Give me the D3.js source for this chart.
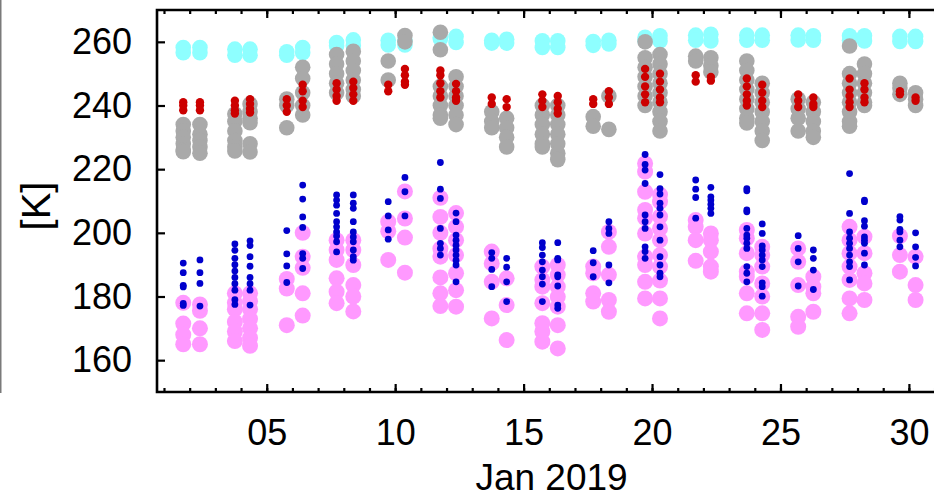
<!DOCTYPE html>
<html>
<head>
<meta charset="utf-8">
<script src="https://cdn.jsdelivr.net/npm/d3@7"></script>
<style>
  body { margin: 0; background: #fff; }
  svg { display: block; font-family: "Liberation Sans", Arial, sans-serif; }
</style>
</head>
<body>
<script>
// observation times, fractional day of January 2019
var obsDays = [1.75, 2.40, 3.76, 4.35, 5.78, 6.40, 7.72, 8.37, 9.73, 10.38,
  11.76, 12.37, 13.76, 14.34, 15.73, 16.33, 17.71, 18.32, 19.73, 20.31,
  21.70, 22.29, 23.69, 24.29, 25.69, 26.28, 27.69, 28.27, 29.65, 30.26];

var dayTicks = [5, 10, 15, 20, 25, 30];
var kTicks = [160, 180, 200, 220, 240, 260];

// values [K] per observation column
var cyanK = [
  [258.2, 256.6], [258.2, 256.6], [257.7, 255.8], [257.7, 255.8], [256.9, 255.8],
  [258.2, 256.6], [259.8, 258.8], [260.6, 258.8], [260.5, 259], [260.5, 259],
  [261.4, 260.9], [261.7, 259.8], [260.5, 259.6], [260.8, 259.6], [260.3, 258.2],
  [260.3, 258.2], [260.1, 258.9], [260.5, 259.3], [261.4, 260.3], [261.9, 260.3],
  [262.1, 260.5], [262.4, 260.3], [262.1, 260.5], [262.1, 260.5], [262.1, 260.6],
  [261.9, 260.5], [261.9, 260.5], [261.9, 260.3], [261.7, 260.1], [261.7, 260.1]
];

var grayK = [
  [234, 232, 230, 228, 226, 225.5],
  [234, 231, 229, 227, 225],
  [237.3, 235, 232, 229, 227, 225.7],
  [240.5, 238, 236, 234.6, 228, 225.4],
  [242, 240, 233],
  [252, 248.5, 244, 240, 237],
  [256, 253, 250, 247, 244],
  [257, 254, 251, 248, 245, 243],
  [254, 248],
  [262, 260],
  [263, 257.5, 246, 243, 240, 237, 236],
  [249, 246, 243, 240, 237, 234],
  [238, 235, 233],
  [236, 233, 230, 227],
  [240, 237, 234, 231, 228, 227],
  [240, 237, 234, 231, 228, 225, 223],
  [236.5, 233.5],
  [243, 232.5],
  [260, 255, 252, 249, 246, 243, 240],
  [256, 253, 250, 247, 244, 241, 238, 235, 232],
  [255.5, 254],
  [255, 252.5, 250.5],
  [254, 251, 248, 245, 242, 239, 236, 234.5],
  [247, 244, 241, 238, 235, 232, 229],
  [242, 239, 236, 232],
  [241, 238, 235, 232, 230],
  [258.7, 250, 247, 244, 241, 238, 235, 233.5],
  [253, 250, 247, 244, 241, 240],
  [247, 245.5, 243.5],
  [244, 242, 240]
];

var redK = [
  [241, 240, 238.5], [241, 240, 238.5], [241.5, 240, 238.5, 237.5], [242, 240.5, 239, 237.8],
  [242, 240, 238], [246.5, 244.5, 241.5, 239.5], [247, 245, 243, 241.5], [247.5, 245.5, 243.5, 241.5],
  [246.5, 244.5], [251.5, 249.5, 247.5, 246.5], [251, 249.5, 247, 244.5, 242.5], [246.8, 244.5, 242.5, 241.5],
  [242.5, 240.5], [242, 239.5], [243.5, 241.5, 239.5], [243, 241, 239, 237.5],
  [242, 240.5], [244.5, 242.5, 240.5], [251.5, 249, 246, 243.5, 241], [250, 247.5, 245, 242.5, 241],
  [249.5, 247.5], [249, 247.8], [248.5, 246, 243.5, 241.5, 240], [246.5, 244, 241.5, 239.5],
  [243.5, 241.5, 239.5], [242.5, 240.5, 239.5], [248.5, 245, 243, 241, 239.5], [247, 245, 242.5, 241],
  [244.5, 243.5], [242.5, 241.5]
];

var pinkK = [
  [178, 171.5, 168, 165],
  [177.5, 175.5, 170, 165],
  [181, 178, 176, 172, 169, 166],
  [181, 178.5, 176, 173, 170, 167, 164.5],
  [185.5, 182.5, 171],
  [200, 192.5, 189, 181, 174],
  [197.7, 194.6, 191.5, 185.7, 181.5, 177.9],
  [197.7, 194.6, 189.9, 183.6, 180, 175.3],
  [203.5, 200.5, 191.5],
  [213, 204.5, 198.5, 187.5],
  [211, 205, 200, 195, 192.5, 186, 181, 177],
  [206.2, 201.9, 197.7, 193, 187.3, 182, 176.8],
  [194.1, 190.4, 184.6, 173.1],
  [185.7, 177.3, 166.3],
  [189.4, 185.2, 183.1, 177.9, 171.6, 169, 165.8],
  [189.9, 186.8, 183.1, 179.9, 176.8, 171, 163.7],
  [189.4, 187.3, 181, 178.4],
  [200.3, 195.6, 186.8, 178.9, 175.2],
  [221.8, 219.2, 212.9, 207.2, 204.6, 199.8, 192.5, 189.9, 184.6, 179.4],
  [212, 209.8, 205.1, 201.4, 197.7, 193, 189.4, 185, 179.4, 173.1],
  [204, 201.9, 197.7, 191.2],
  [199.8, 197.7, 194.1, 189.4, 187.8],
  [200.9, 198.3, 193.6, 187.8, 186.2, 181, 174.7],
  [195.6, 193, 189.4, 184.1, 180, 174.7, 169.5],
  [195.1, 190.9, 183.6, 173.6, 170.5],
  [186.2, 183.1, 181, 175.2],
  [201.9, 197.7, 193.6, 189.4, 185.2, 179.4, 174.7],
  [198.8, 193.6, 187.3, 184.1, 178.9],
  [199, 193, 187.8],
  [192.5, 183.6, 178.9]
];

var blueK = [
  [190.5, 187.5, 183.5, 183, 177.8, 177.2],
  [191.5, 187.5, 184.1, 177],
  [196.5, 194.5, 192, 190, 188, 186, 184, 182, 179, 177.5],
  [197.5, 196, 192.5, 189.5, 186, 184, 182, 177.3],
  [200.7, 193.4, 189.6, 184.4],
  [215, 210.6, 205, 201.7, 193.5, 192, 188.8],
  [211.9, 210.3, 208.7, 206.1, 203.5, 201.9, 200.3, 199, 197.2, 194],
  [211.9, 209.3, 207.7, 203.5, 200.3, 198.7, 197.2, 194.6, 192.5, 191.4],
  [209.8, 205.3, 200.9, 198],
  [217.4, 212.9, 205.3],
  [222.1, 213.7, 210.8, 201.4, 196.7, 195.1, 193],
  [206.2, 203.5, 199.3, 197.7, 196.1, 194.6, 193, 191.4, 189.9, 184.6],
  [193.8, 192, 188.5, 183.1],
  [192, 189.2, 184.6, 178.4],
  [196.9, 195.4, 193, 190.9, 188.3, 186.2, 183.9, 178.4],
  [196.9, 192, 191.5, 186.8, 186.2, 183.3, 177.3, 176.3],
  [194.4, 190.6, 186.2],
  [203.5, 201.4, 199.8, 189.9, 184.3],
  [224.6, 221.5, 219.7, 215.5, 205.6, 203.5, 201.4, 195.6, 194.1, 192],
  [218.3, 213.9, 212.2, 209.3, 207.7, 205.6, 201.9, 197.7, 192.5, 189.9, 187.3, 186.2],
  [216.6, 213.7, 211.1, 204.6],
  [214.3, 211.3, 210.3, 209, 207.7, 206.1],
  [213.9, 213.2, 207.2, 206.6, 201.4, 199.3, 198.3, 196.7, 195.1, 189.4, 187.3, 184.6],
  [202.8, 199.8, 195.9, 194.6, 193, 191.5, 189.4, 184.3, 183.1, 180.1],
  [199.1, 195.1, 190.9, 183.3],
  [194.6, 192, 188.3, 182.2],
  [218.6, 206.1, 200.3, 198.3, 196.7, 195.1, 193, 190.9, 189.4, 185.2],
  [210.3, 209.8, 203.8, 202.1, 198.7, 197.7, 196.7, 193.6, 189.9],
  [205.1, 204, 201.1, 200.3, 197.7, 195.6],
  [200, 195.6, 192.3, 189.6]
];

var width = 934, height = 497;
var margin = {top: 10, left: 157, bottom: 105};
var plotRight = 950;

function dayToDate(d){
  return new Date(Date.UTC(2019, 0, 0) + d * 86400000);
}

var svg = d3.select("body").append("svg")
  .attr("width", width)
  .attr("height", height);

var x = d3.scaleUtc()
  .domain([dayToDate(0.728), dayToDate(31.6)])
  .range([margin.left, plotRight]);
var y = d3.scaleLinear()
  .domain([150, 270])
  .range([height - margin.bottom, margin.top]);

// gray edge of neighbouring panel
svg.append("line")
  .attr("x1", 0.75).attr("x2", 0.75)
  .attr("y1", 0).attr("y2", 393)
  .attr("stroke", "#7a7a7a").attr("stroke-width", 1.5);

// series, in drawing order
var series = [
  { name: "cyan", color: "#8effff", r: 7.8, values: cyanK },
  { name: "gray", color: "#a9a9a9", r: 7.8, values: grayK },
  { name: "red",  color: "#cc0000", r: 4.2, values: redK },
  { name: "pink", color: "#ff99ff", r: 8,   values: pinkK },
  { name: "blue", color: "#0000cc", r: 3.4, values: blueK }
];

series.forEach(function(s){
  var pts = [];
  s.values.forEach(function(col, i){
    col.forEach(function(v){ pts.push({t: dayToDate(obsDays[i]), v: v}); });
  });
  svg.append("g").attr("class", "pts-" + s.name)
    .selectAll("circle")
    .data(pts)
    .enter().append("circle")
      .attr("cx", function(d){ return x(d.t); })
      .attr("cy", function(d){ return y(d.v); })
      .attr("r", s.r)
      .attr("fill", s.color);
});

var majorDates = dayTicks.map(dayToDate);
var minorDates = d3.utcDay.range(x.domain()[0], x.domain()[1]);

function styleAxis(g){
  g.select(".domain").remove();
  g.selectAll(".tick line").attr("stroke", "#000").attr("stroke-width", 2.2);
  g.selectAll("text").attr("fill", "#000").attr("font-size", "36px")
    .attr("font-family", "'Liberation Sans', Arial, sans-serif");
}

var yBottom = height - margin.bottom;

// minor day ticks, top and bottom
svg.append("g")
  .attr("transform", "translate(0," + yBottom + ")")
  .call(d3.axisBottom(x).tickValues(minorDates).tickSizeInner(-4).tickSizeOuter(0).tickFormat(""))
  .call(styleAxis);
svg.append("g")
  .attr("transform", "translate(0," + margin.top + ")")
  .call(d3.axisTop(x).tickValues(minorDates).tickSizeInner(-4).tickSizeOuter(0).tickFormat(""))
  .call(styleAxis);

// major ticks with labels
svg.append("g")
  .attr("transform", "translate(0," + yBottom + ")")
  .call(d3.axisBottom(x).tickValues(majorDates).tickSizeInner(-8).tickSizeOuter(0)
    .tickPadding(27).tickFormat(d3.utcFormat("%d")))
  .call(styleAxis);
svg.append("g")
  .attr("transform", "translate(0," + margin.top + ")")
  .call(d3.axisTop(x).tickValues(majorDates).tickSizeInner(-8).tickSizeOuter(0).tickFormat(""))
  .call(styleAxis);

svg.append("g")
  .attr("transform", "translate(" + margin.left + ",0)")
  .call(d3.axisLeft(y).tickValues(kTicks).tickSizeInner(-8).tickSizeOuter(0).tickPadding(25))
  .call(styleAxis);

// frame
svg.append("path")
  .attr("d", "M" + plotRight + "," + margin.top + "H" + margin.left + "V" + yBottom + "H" + plotRight)
  .attr("fill", "none")
  .attr("stroke", "#000")
  .attr("stroke-width", 2.6);

svg.append("text")
  .attr("x", (margin.left + plotRight) / 2 - 2)
  .attr("y", 490)
  .attr("text-anchor", "middle")
  .attr("font-size", "37px")
  .text("Jan 2019");

svg.append("text")
  .attr("transform", "translate(50," + ((margin.top + yBottom) / 2 + 5) + ") rotate(-90)")
  .attr("text-anchor", "middle")
  .attr("font-size", "40px")
  .text("[K]");
</script>
</body>
</html>
